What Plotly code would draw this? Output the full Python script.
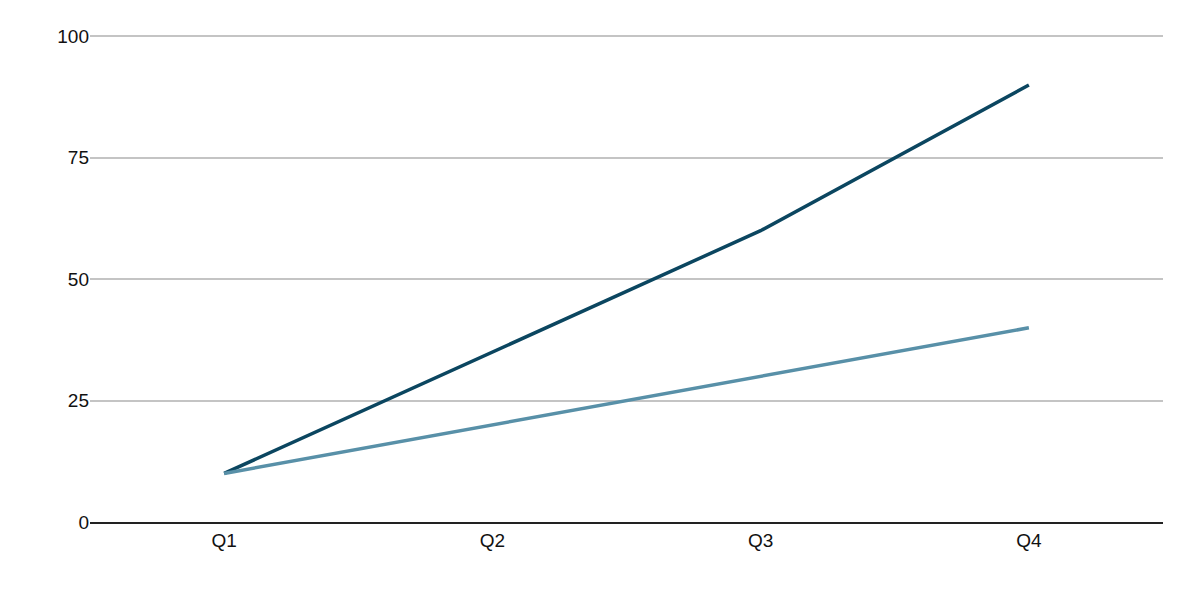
import plotly.graph_objects as go

quarters = ["Q1", "Q2", "Q3", "Q4"]
series_a = [10, 35, 60, 90]
series_b = [10, 20, 30, 40]

fig = go.Figure()
fig.add_trace(go.Scatter(x=quarters, y=series_a, mode="lines",
                         line=dict(color="#0b4660", width=3.5)))
fig.add_trace(go.Scatter(x=quarters, y=series_b, mode="lines",
                         line=dict(color="#5890a8", width=3.5)))

fig.update_xaxes(range=[-0.5, 3.5], showgrid=False, ticks="",
                 showline=True, linecolor="#222", linewidth=1.5,
                 tickfont=dict(size=19, color="#111"))
fig.update_yaxes(range=[0, 100.3], tickvals=[0, 25, 50, 75, 100],
                 gridcolor="#c4c4c4", gridwidth=1.5, zeroline=False,
                 tickfont=dict(size=19, color="#111"))

fig.update_layout(
    width=1200, height=600,
    template="none",
    showlegend=False,
    plot_bgcolor="white", paper_bgcolor="white",
    font=dict(family="Liberation Sans, Arial", size=19, color="#111"),
    margin=dict(l=82, r=45, t=27, b=86),
)

fig.write_html("out.html")
